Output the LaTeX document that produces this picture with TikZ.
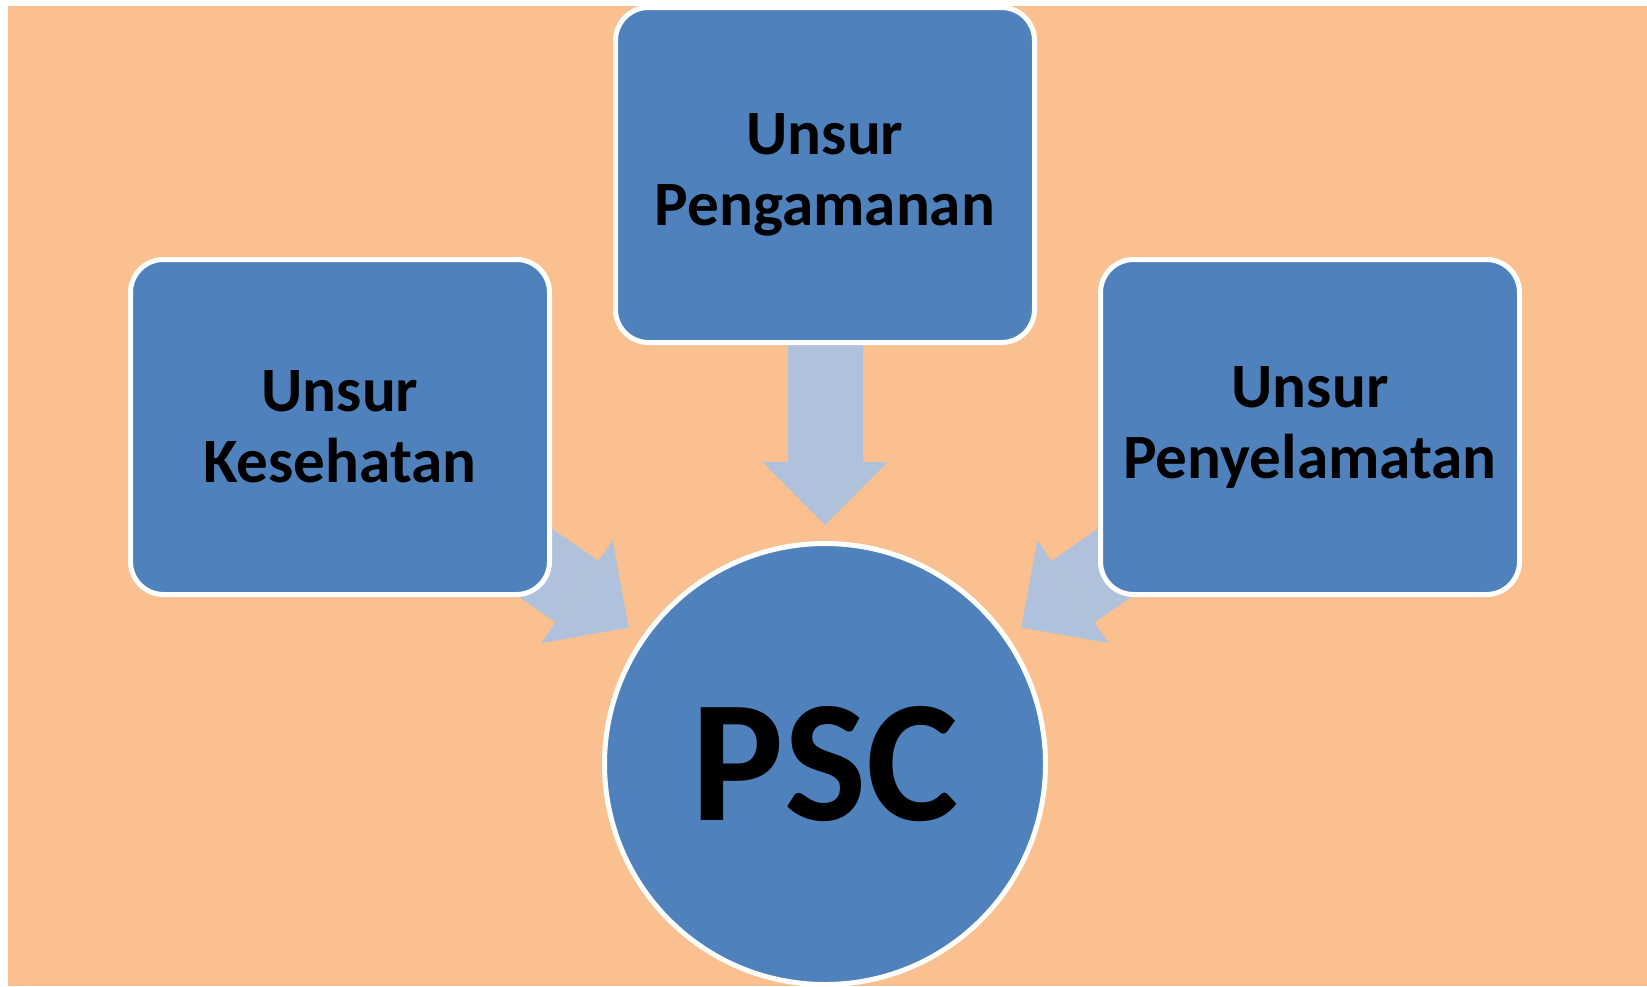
\documentclass[tikz,border=0pt]{standalone}
\usepackage{fontspec}
\setmainfont{Carlito}
\usetikzlibrary{arrows.meta}
\definecolor{peach}{HTML}{FAC090}
\definecolor{boxblue}{HTML}{4F81BD}
\definecolor{arrowblue}{HTML}{B0C1DC}
\pgfdeclarelayer{backdrop}
\pgfdeclarelayer{arrows}
\pgfsetlayers{backdrop,arrows,main}

\begin{document}
\begin{tikzpicture}[x=0.5pt, y=-0.5pt,
    unsur/.style={rectangle, rounded corners=16.5pt, draw=white, line width=2.5pt, fill=boxblue,
        minimum width=209.5pt, minimum height=167.5pt, inner sep=0pt, align=center,
        font=\bfseries\fontsize{31.6pt}{35.5pt}\selectfont},
    hub/.style={circle, draw=white, line width=2.5pt, fill=boxblue, minimum size=220.5pt,
        inner sep=0pt, font=\bfseries\fontsize{87pt}{90pt}\selectfont},
    flow/.style={arrowblue, line width=37.5pt, shorten >=119.5pt,
        -{Triangle[length=31.5pt 0 0, width=62.5pt 0 0, line width=0pt 0]}}
]
    \useasboundingbox (0,0) rectangle (1647,986);

    % Background
    \begin{pgfonlayer}{backdrop}
        \fill[peach] (8,6) rectangle (1647,986);
    \end{pgfonlayer}

    % Centre
    \node[hub] (psc) at (825,764) {PSC};

    % Elements
    \node[unsur] (pengamanan) at (825,175) {Unsur\\Pengamanan};
    \node[unsur] (kesehatan) at (340,427) {Unsur\\Kesehatan};
    \node[unsur] (penyelamatan) at (1310,427) {Unsur\\Penyelamatan};

    % Arrows into the centre
    \begin{pgfonlayer}{arrows}
        \foreach \src in {pengamanan, kesehatan, penyelamatan} {
            \draw[flow] (\src.center) -- (psc.center);
        }
    \end{pgfonlayer}
\end{tikzpicture}
\end{document}
